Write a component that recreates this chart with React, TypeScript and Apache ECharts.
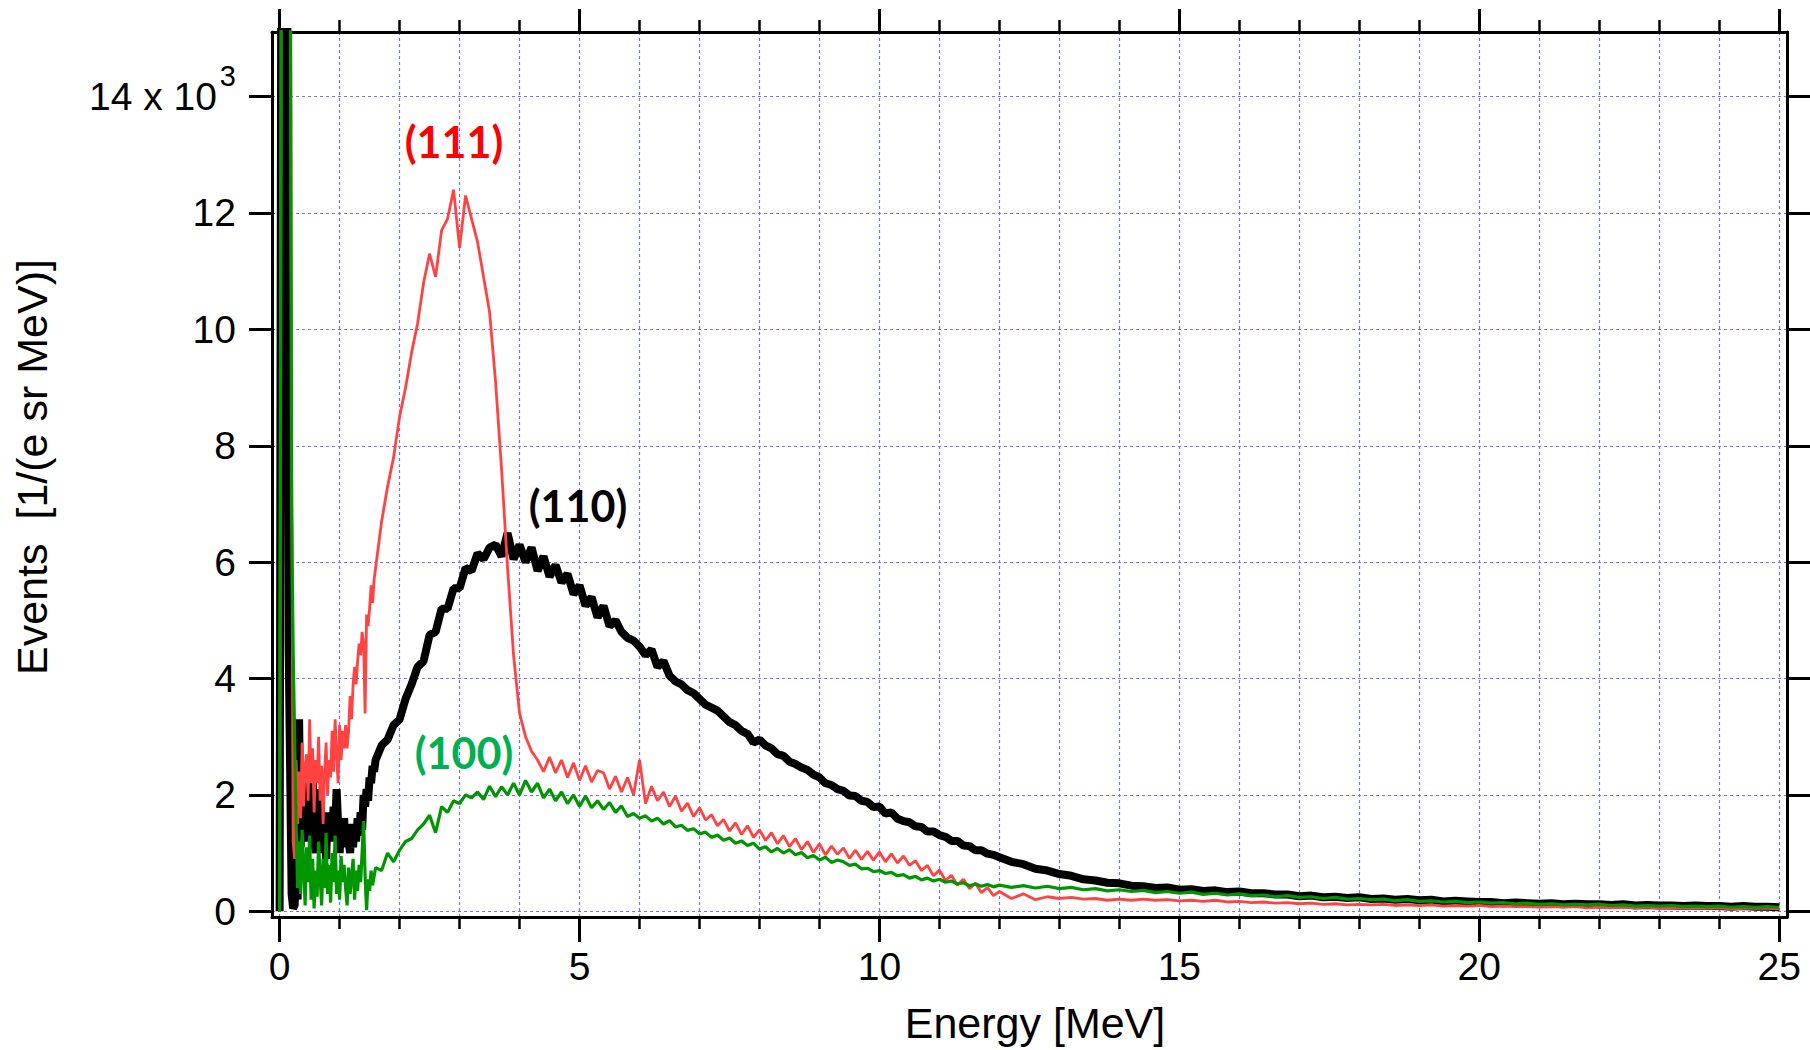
import React, { useEffect, useRef } from "react";
import * as echarts from "echarts";

// Energy grid [MeV] (rows of 10; dense near the low-energy noise)
const energy = [
  0, 0.05, 0.1, 0.15, 0.2, 0.225, 0.25, 0.275, 0.3, 0.325,
  0.35, 0.375, 0.4, 0.425, 0.45, 0.475, 0.5, 0.525, 0.55, 0.575,
  0.6, 0.625, 0.65, 0.675, 0.7, 0.725, 0.75, 0.775, 0.8, 0.825,
  0.85, 0.875, 0.9, 0.925, 0.95, 0.975, 1.0, 1.025, 1.05, 1.075,
  1.1, 1.125, 1.15, 1.175, 1.2, 1.225, 1.25, 1.275, 1.3, 1.325,
  1.35, 1.375, 1.4, 1.425, 1.45, 1.475, 1.5, 1.525, 1.55, 1.575,
  1.6, 1.7, 1.8, 1.9, 2.0, 2.1, 2.2, 2.3,
  2.4, 2.5, 2.6, 2.7, 2.8, 2.9, 3.0, 3.1, 3.2, 3.3,
  3.4, 3.5, 3.6, 3.7, 3.8, 3.9, 4.0, 4.1, 4.2, 4.3,
  4.4, 4.5, 4.6, 4.7, 4.8, 4.9, 5.0, 5.1, 5.2, 5.3,
  5.4, 5.5, 5.6, 5.7, 5.8, 5.9, 6.0, 6.1, 6.2, 6.3,
  6.4, 6.5, 6.6, 6.7, 6.8, 6.9, 7.0, 7.1, 7.2, 7.3,
  7.4, 7.5, 7.6, 7.7, 7.8, 7.9, 8.0, 8.1, 8.2, 8.3,
  8.4, 8.5, 8.6, 8.7, 8.8, 8.9, 9.0, 9.1, 9.2, 9.3,
  9.4, 9.5, 9.6, 9.7, 9.8, 9.9, 10.0, 10.1, 10.2, 10.3,
  10.4, 10.5, 10.6, 10.7, 10.8, 10.9, 11.0, 11.1, 11.2, 11.3,
  11.4, 11.5, 11.6, 11.7, 11.8, 11.9, 12.0, 12.2, 12.4, 12.6,
  12.8, 13.0, 13.2, 13.4, 13.6, 13.8, 14.0, 14.2, 14.4, 14.6,
  14.8, 15.0, 15.2, 15.4, 15.6, 15.8, 16.0, 16.2, 16.4, 16.6,
  16.8, 17.0, 17.2, 17.4, 17.6, 17.8, 18.0, 18.2, 18.4, 18.6,
  18.8, 19.0, 19.2, 19.4, 19.6, 19.8, 20.0, 20.2, 20.4, 20.6,
  20.8, 21.0, 21.2, 21.4, 21.6, 21.8, 22.0, 22.2, 22.4, 22.6,
  22.8, 23.0, 23.2, 23.4, 23.6, 23.8, 24.0, 24.2, 24.4, 24.6,
  24.8, 25.0,
];

// Events [x10^3 1/(e sr MeV)]
const events110 = [
  0, 30, 30, 4.6, 0.3, 0.05, 0.1, 0.7, 0.2, 3.3,
  1.1, 2.3, 1.5, 2.2, 1.7, 1.2, 2.0, 1.5, 2.4, 1.3,
  1.0, 1.8, 1.3, 2.1, 1.5, 1.0, 1.6, 0.9, 1.7, 1.2,
  1.6, 1.2, 1.8, 1.4, 2.1, 1.5, 1.0, 1.4, 1.3, 1.6,
  1.1, 1.5, 1.2, 1.0, 1.4, 1.1, 1.5, 1.2, 1.6, 1.3,
  1.7, 1.4, 2.0, 1.8, 2.1, 1.9, 2.3, 2.2, 2.5, 2.4,
  2.6, 2.85, 2.95, 3.2, 3.3, 3.65, 3.9, 4.2,
  4.3, 4.75, 4.8, 5.2, 5.2, 5.55, 5.55, 5.9, 5.85, 6.15,
  6.05, 6.25, 6.3, 6.1, 6.5, 6.05, 6.3, 6.0, 6.25, 5.85,
  6.1, 5.75, 5.95, 5.65, 5.8, 5.45, 5.6, 5.25, 5.4, 5.05,
  5.25, 4.9, 5.0, 4.8, 4.7, 4.65, 4.55, 4.4, 4.5, 4.2,
  4.3, 4.05, 3.95, 3.9, 3.8, 3.75, 3.65, 3.55, 3.5, 3.45,
  3.35, 3.25, 3.2, 3.1, 3.05, 2.9, 2.95, 2.85, 2.8, 2.7,
  2.67, 2.57, 2.53, 2.47, 2.43, 2.35, 2.3, 2.2, 2.17, 2.1,
  2.07, 1.99, 1.98, 1.9, 1.88, 1.79, 1.8, 1.68, 1.7, 1.59,
  1.55, 1.53, 1.46, 1.45, 1.37, 1.37, 1.31, 1.28, 1.21, 1.21,
  1.13, 1.12, 1.05, 1.05, 0.99, 0.97, 0.93, 0.85, 0.81, 0.73,
  0.7, 0.64, 0.61, 0.55, 0.53, 0.49, 0.48, 0.44, 0.43, 0.4,
  0.41, 0.37, 0.38, 0.35, 0.36, 0.33, 0.34, 0.31, 0.31, 0.29,
  0.29, 0.26, 0.27, 0.24, 0.25, 0.23, 0.24, 0.21, 0.22, 0.2,
  0.21, 0.19, 0.2, 0.17, 0.18, 0.17, 0.16, 0.16, 0.14, 0.15,
  0.14, 0.13, 0.14, 0.12, 0.13, 0.12, 0.12, 0.11, 0.12, 0.1,
  0.11, 0.1, 0.1, 0.09, 0.1, 0.09, 0.09, 0.08, 0.09, 0.08,
  0.08, 0.07,
];

const events111 = [
  0, 30, 30, 30, 8.0, 1.2, 0.9, 2.6, 1.5, 2.4,
  1.6, 2.9, 1.8, 2.5, 2.7, 1.9, 3.3, 2.2, 2.8, 1.7,
  2.6, 2.2, 3.0, 1.9, 2.5, 1.5, 2.4, 2.9, 2.0, 2.6,
  2.3, 3.1, 2.4, 3.3, 2.7, 2.2, 3.2, 2.6, 3.1, 2.8,
  3.2, 2.8, 3.1, 3.7, 3.3, 3.9, 4.2, 3.9, 4.3, 4.6,
  4.4, 4.8, 4.6, 3.4, 5.1, 4.9, 5.2, 5.6, 5.3, 5.7,
  5.9, 6.7, 7.3, 7.8, 8.5, 9.0, 9.6, 10.1,
  10.8, 11.3, 10.9, 11.7, 11.9, 12.4, 11.4, 12.3, 11.9, 11.5,
  10.9, 10.3, 9.1, 7.6, 5.9, 4.4, 3.4, 3.0, 2.75, 2.6,
  2.4, 2.65, 2.38, 2.6, 2.3, 2.55, 2.25, 2.5, 2.22, 2.42,
  2.38, 2.1, 2.32, 2.05, 2.3, 2.0, 2.6, 1.85, 2.15, 1.9,
  2.05, 1.8, 1.98, 1.72, 1.86, 1.63, 1.78, 1.57, 1.66, 1.47,
  1.58, 1.38, 1.52, 1.32, 1.47, 1.27, 1.4, 1.22, 1.35, 1.16,
  1.3, 1.11, 1.25, 1.06, 1.2, 1.01, 1.16, 0.97, 1.12, 0.98,
  1.09, 0.91, 1.05, 0.89, 1.03, 0.88, 1.02, 0.85, 0.99, 0.83,
  0.95, 0.79, 0.87, 0.7, 0.79, 0.61, 0.71, 0.53, 0.62, 0.45,
  0.55, 0.39, 0.48, 0.32, 0.41, 0.27, 0.34, 0.22, 0.3, 0.2,
  0.25, 0.22, 0.24, 0.21, 0.22, 0.19, 0.21, 0.19, 0.21, 0.19,
  0.2, 0.18, 0.19, 0.17, 0.19, 0.16, 0.17, 0.15, 0.16, 0.14,
  0.15, 0.13, 0.14, 0.12, 0.13, 0.11, 0.12, 0.11, 0.12, 0.1,
  0.11, 0.1, 0.11, 0.09, 0.1, 0.09, 0.1, 0.08, 0.09, 0.08,
  0.08, 0.07, 0.08, 0.07, 0.08, 0.06, 0.07, 0.06, 0.07, 0.06,
  0.07, 0.05, 0.06, 0.05, 0.06, 0.05, 0.06, 0.04, 0.05, 0.05,
  0.05, 0.04,
];

const events100 = [
  0, 30, 30, 30, 7.0, 4.5, 3.0, 1.5, 0.4, 1.2,
  0.3, 1.4, 0.8, 0.1, 1.1, 0.5, 1.3, 0.2, 0.9, 0.05,
  0.7, 0.25, 1.2, 0.6, 0.1, 0.9, 0.4, 1.35, 0.3, 0.8,
  0.15, 1.0, 0.5, 1.3, 0.3, 0.7, 0.2, 0.95, 0.5, 0.8,
  0.4, 0.1, 0.75, 0.3, 0.6, 0.9, 0.2, 0.7, 0.35, 0.8,
  0.5, 1.0, 1.55, 0.6, 0.02, 0.55, 0.35, 0.7, 0.45, 0.6,
  0.75, 0.7, 1.0, 0.85, 1.05, 1.2, 1.25, 1.4,
  1.5, 1.65, 1.35, 1.8, 1.7, 1.9, 1.85, 2.0, 1.95, 2.05,
  1.92, 2.15, 1.97, 2.14, 2.0, 2.2, 2.0, 2.25, 2.05, 2.2,
  1.95, 2.1, 1.9, 2.05, 1.85, 2.0, 1.8, 1.98, 1.78, 1.9,
  1.75, 1.87, 1.7, 1.81, 1.63, 1.68, 1.6, 1.64, 1.55, 1.6,
  1.5, 1.56, 1.45, 1.48, 1.39, 1.42, 1.33, 1.36, 1.27, 1.31,
  1.22, 1.26, 1.17, 1.21, 1.13, 1.17, 1.07, 1.11, 1.02, 1.08,
  1.0, 1.06, 0.97, 1.01, 0.92, 0.96, 0.88, 0.93, 0.84, 0.88,
  0.85, 0.79, 0.81, 0.73, 0.74, 0.68, 0.7, 0.65, 0.67, 0.61,
  0.63, 0.57, 0.6, 0.54, 0.57, 0.52, 0.55, 0.5, 0.52, 0.47,
  0.49, 0.44, 0.47, 0.43, 0.46, 0.42, 0.45, 0.41, 0.44, 0.4,
  0.43, 0.39, 0.41, 0.37, 0.39, 0.35, 0.37, 0.34, 0.36, 0.32,
  0.34, 0.31, 0.33, 0.29, 0.31, 0.28, 0.3, 0.27, 0.28, 0.25,
  0.27, 0.24, 0.25, 0.22, 0.24, 0.21, 0.22, 0.2, 0.21, 0.18,
  0.2, 0.17, 0.18, 0.16, 0.17, 0.15, 0.16, 0.14, 0.15, 0.13,
  0.14, 0.12, 0.13, 0.11, 0.12, 0.11, 0.12, 0.1, 0.11, 0.09,
  0.1, 0.09, 0.1, 0.08, 0.09, 0.08, 0.09, 0.07, 0.08, 0.07,
  0.08, 0.07,
];

const xMajorTicks = [0, 5, 10, 15, 20, 25];
const xMinorTicks = [0, 1, 2, 3, 4, 5, 6, 7, 8, 9, 10, 11, 12, 13, 14, 15, 16, 17, 18, 19, 20, 21, 22, 23, 24, 25];
const yTicks = [0, 2, 4, 6, 8, 10, 12, 14];

const X_MIN = -0.127;
const X_MAX = 25.13;
const Y_MIN = -0.098;
const Y_MAX = 15.11;

const FONT = "Liberation Sans, Arial, sans-serif";
const GRID_COLOR = "#7272ff";

function pairs(xs: number[], ys: number[]) {
  const n = Math.min(xs.length, ys.length);
  const out: number[][] = [];
  for (let i = 0; i < n; i++) out.push([xs[i], ys[i]]);
  return out;
}

export default function App() {
  const ref = useRef<HTMLDivElement>(null);

  useEffect(() => {
    if (!ref.current) return;
    const chart = echarts.init(ref.current, null, { renderer: "svg" });

    const baseX = {
      type: "value",
      min: X_MIN,
      max: X_MAX,
      axisLine: { show: false, onZero: false },
      axisLabel: { show: false },
      splitLine: { show: false },
    };
    const baseY = {
      type: "value",
      min: Y_MIN,
      max: Y_MAX,
      axisLine: { show: false, onZero: false },
      axisLabel: { show: false },
      splitLine: { show: false },
    };
    const frameLine = { show: true, onZero: false, lineStyle: { color: "#000", width: 3 } };

    chart.setOption({
      animation: false,
      backgroundColor: "#ffffff",
      grid: { left: 272, right: 23, top: 32, bottom: 133, containLabel: false, outerBoundsMode: "none" },
      xAxis: [
        {
          ...baseX,
          position: "bottom",
          axisLine: frameLine,
          axisTick: { show: true, customValues: xMajorTicks, length: 25, lineStyle: { color: "#000", width: 3 } },
          axisLabel: {
            show: true,
            customValues: xMajorTicks,
            fontSize: 39,
            fontFamily: FONT,
            color: "#000",
            margin: 30,
          },
        },
        {
          ...baseX,
          position: "bottom",
          axisTick: { show: true, customValues: xMinorTicks, length: 12, lineStyle: { color: "#000", width: 2.5 } },
          splitLine: { show: true, lineStyle: { color: GRID_COLOR, width: 1.2, type: [3, 3] } },
        },
        {
          ...baseX,
          position: "top",
          axisLine: frameLine,
          axisTick: { show: true, customValues: xMajorTicks, length: 23, lineStyle: { color: "#000", width: 3 } },
        },
        {
          ...baseX,
          position: "top",
          axisTick: { show: true, customValues: xMinorTicks, length: 12, lineStyle: { color: "#000", width: 2.5 } },
        },
      ],
      yAxis: [
        {
          ...baseY,
          position: "left",
          axisLine: frameLine,
          axisTick: { show: true, customValues: yTicks, length: 23, lineStyle: { color: "#000", width: 3 } },
          splitLine: { show: true, lineStyle: { color: GRID_COLOR, width: 1.2, type: [3, 3] } },
          axisLabel: {
            show: true,
            customValues: yTicks,
            fontSize: 39,
            fontFamily: FONT,
            color: "#000",
            margin: 36,
            formatter: (v: number) => (v === 14 ? "{a|14 x 10}{s|3}" : String(v)),
            rich: {
              a: { fontSize: 39, fontFamily: FONT, color: "#000", lineHeight: 70 },
              s: { fontSize: 29, fontFamily: FONT, color: "#000", verticalAlign: "top", padding: [0, 0, 0, 3] },
            },
          },
        },
        {
          ...baseY,
          position: "right",
          axisLine: frameLine,
          axisTick: { show: true, customValues: yTicks, length: 23, lineStyle: { color: "#000", width: 3 } },
        },
      ],
      series: [
        {
          name: "(110)",
          type: "line",
          data: pairs(energy, events110),
          showSymbol: false,
          symbol: "none",
          clip: true,
          lineStyle: { color: "#000000", width: 8 },
          itemStyle: { color: "#000000" },
          z: 2,
        },
        {
          name: "(111)",
          type: "line",
          data: pairs(energy, events111),
          showSymbol: false,
          symbol: "none",
          clip: true,
          lineStyle: { color: "#ff4343", width: 2.8 },
          itemStyle: { color: "#ff4343" },
          z: 3,
        },
        {
          name: "(100)",
          type: "line",
          data: pairs(energy, events100),
          showSymbol: false,
          symbol: "none",
          clip: true,
          lineStyle: { color: "#009600", width: 3.2 },
          itemStyle: { color: "#009600" },
          z: 4,
        },
      ],
      graphic: [
        {
          type: "text",
          x: 454,
          y: 141,
          style: {
            text: "(111)",
            fill: "#ff0000",
            font: "bold 43px Lato, 'Open Sans', sans-serif",
            textAlign: "center",
            textVerticalAlign: "middle",
          },
          z: 10,
        },
        {
          type: "text",
          x: 578,
          y: 505,
          style: {
            text: "(110)",
            fill: "#000000",
            font: "bold 43px Lato, 'Open Sans', sans-serif",
            textAlign: "center",
            textVerticalAlign: "middle",
          },
          z: 10,
        },
        {
          type: "text",
          x: 464,
          y: 752,
          style: {
            text: "(100)",
            fill: "#00b050",
            font: "bold 43px Lato, 'Open Sans', sans-serif",
            textAlign: "center",
            textVerticalAlign: "middle",
          },
          z: 10,
        },
        {
          type: "text",
          x: 1035,
          y: 1023,
          style: {
            text: "Energy [MeV]",
            fill: "#000",
            font: "43px 'Liberation Sans', Arial, sans-serif",
            textAlign: "center",
            textVerticalAlign: "middle",
          },
        },
        {
          type: "text",
          x: 32,
          y: 467,
          rotation: Math.PI / 2,
          style: {
            text: "Events  [1/(e sr MeV)]",
            fill: "#000",
            font: "43px 'Liberation Sans', Arial, sans-serif",
            textAlign: "center",
            textVerticalAlign: "middle",
          },
        },
      ],
    });

    return () => chart.dispose();
  }, []);

  return (
    <div
      ref={ref}
      style={{ position: "absolute", left: 0, top: 0, width: 1810, height: 1050, background: "#fff" }}
    />
  );
}
